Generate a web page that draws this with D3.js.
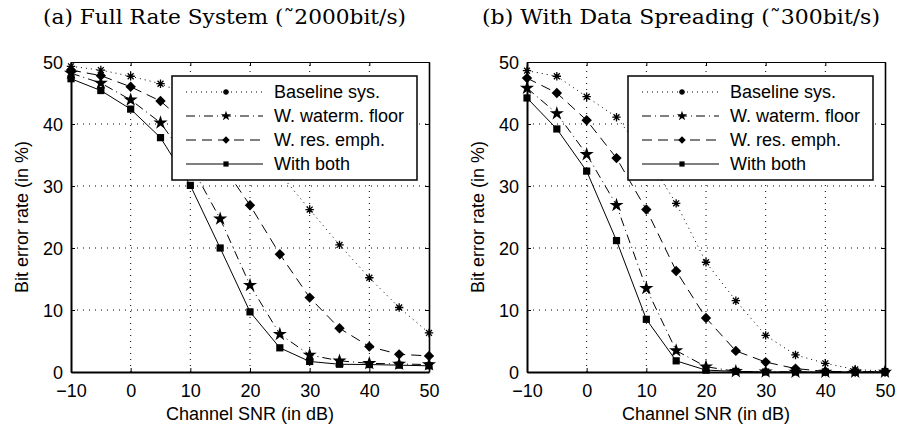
<!DOCTYPE html>
<html><head><meta charset="utf-8">
<script src="https://cdn.jsdelivr.net/npm/d3@7"></script>
<style>body{margin:0;background:#fff}svg{display:block}</style>
</head><body>
<svg id="c" width="898" height="430"></svg>
<script>
const snr = [-10,-5,0,5,10,15,20,25,30,35,40,45,50];
const seriesNames = ["Baseline sys.","W. waterm. floor","W. res. emph.","With both"];
const xTicks = [-10,0,10,20,30,40,50];
const yTicks = [0,10,20,30,40,50];
const titleA = "(a) Full Rate System (˜2000bit/s)";
const titleB = "(b) With Data Spreading (˜300bit/s)";
const xLabel = "Channel SNR (in dB)";
const yLabel = "Bit error rate (in %)";
// Panel (a)
const aBaseline = [49.3,48.7,47.7,46.5,44.5,41.5,37.0,32.0,26.2,20.5,15.2,10.4,6.3];
const aWaterm   = [48.2,46.6,43.9,40.2,33.5,24.7,14.0,6.1,2.75,1.8,1.4,1.3,1.2];
const aResEmph  = [48.7,47.8,46.0,43.7,39.5,33.9,26.9,19.0,12.0,7.05,4.1,2.85,2.6];
const aBoth     = [47.3,45.4,42.4,37.8,30.1,20.0,9.7,3.9,1.7,1.25,1.2,1.1,1.0];
// Panel (b)
const bBaseline = [48.6,47.7,44.4,41.1,34.8,27.2,17.7,11.5,5.9,2.75,1.4,0.4,0.15];
const bWaterm   = [45.8,41.7,35.1,26.9,13.5,3.45,0.85,0.1,0.05,0,0,0,0];
const bResEmph  = [47.4,45.0,40.6,34.5,26.2,16.3,8.7,3.4,1.6,0.55,0.1,0.05,0.05];
const bBoth     = [44.2,39.2,32.4,21.2,8.5,1.8,0.3,0.1,0,0,0,0,0];

const styles = [
  {dash:"1,4", marker:"asterisk"},
  {dash:"9,4,1,4", marker:"star"},
  {dash:"10,6", marker:"diamond"},
  {dash:null, marker:"square"}
];
const svg = d3.select("#c");
const sans = "'Liberation Sans', Arial, Helvetica, sans-serif";

function drawMarker(g, type, x, y, sc) {
  sc = sc || 1;
  if (type === "asterisk") {
    const r = 4.2 * sc;
    const p = d3.path();
    for (let k = 0; k < 4; k++) {
      const a = k * Math.PI / 4;
      p.moveTo(x - r*Math.cos(a), y - r*Math.sin(a));
      p.lineTo(x + r*Math.cos(a), y + r*Math.sin(a));
    }
    g.append("path").attr("d", p.toString()).attr("stroke","#000").attr("stroke-width",1.3).attr("fill","none");
  } else if (type === "star") {
    g.append("path").attr("d", d3.symbol(d3.symbolStar, 62*sc*sc)()).attr("transform",`translate(${x},${y})`).attr("fill","#000");
  } else if (type === "diamond") {
    const r = 5.2 * sc;
    g.append("path").attr("d", `M${x},${y-r}L${x+r},${y}L${x},${y+r}L${x-r},${y}Z`).attr("fill","#000");
  } else {
    const s = 3.6 * sc;
    g.append("rect").attr("x",x-s).attr("y",y-s).attr("width",2*s).attr("height",2*s).attr("fill","#000");
  }
}

function panel(o) {
  const x = d3.scaleLinear().domain([-10,50]).range([o.x0, o.x1]);
  const y = d3.scaleLinear().domain([0,50]).range([372, 62]);
  const g = svg.append("g");
  // grid
  xTicks.forEach(t => {
    if (t === -10 || t === 50) return;
    g.append("line").attr("x1",x(t)).attr("x2",x(t)).attr("y1",y(0)).attr("y2",y(50))
      .attr("stroke","#000").attr("stroke-width",1).attr("stroke-dasharray","1,5");
  });
  yTicks.forEach(t => {
    if (t === 0 || t === 50) return;
    g.append("line").attr("x1",x(-10)).attr("x2",x(50)).attr("y1",y(t)).attr("y2",y(t))
      .attr("stroke","#000").attr("stroke-width",1).attr("stroke-dasharray","1,5");
  });
  // axes with inward ticks
  const ax = g.append("g").attr("transform",`translate(0,${y(0)})`)
    .call(d3.axisBottom(x).tickValues(xTicks).tickSizeInner(-4).tickSizeOuter(0).tickPadding(12)
      .tickFormat(d => d < 0 ? "\u2212" + Math.abs(d) : d));
  const ay = g.append("g").attr("transform",`translate(${x(-10)},0)`)
    .call(d3.axisLeft(y).tickValues(yTicks).tickSizeInner(-4).tickSizeOuter(0).tickPadding(8));
  const axt = g.append("g").attr("transform",`translate(0,${y(50)})`)
    .call(d3.axisTop(x).tickValues(xTicks).tickSizeInner(-4).tickSizeOuter(0).tickFormat(""));
  const ayr = g.append("g").attr("transform",`translate(${x(50)},0)`)
    .call(d3.axisRight(y).tickValues(yTicks).tickSizeInner(-4).tickSizeOuter(0).tickFormat(""));
  [ax, ay, axt, ayr].forEach(a => {
    a.selectAll("text").attr("font-family", sans).attr("font-size", 18).attr("fill","#000");
    a.selectAll("line").attr("stroke","#000");
  });
  ax.select(".domain").attr("stroke","#000").attr("stroke-width",2);
  ay.select(".domain").attr("stroke","#000").attr("stroke-width",2);
  axt.select(".domain").attr("stroke","#000").attr("stroke-width",1.2);
  ayr.select(".domain").attr("stroke","#000").attr("stroke-width",1.6);
  ay.selectAll("text").attr("dy","0.36em");

  // series
  const line = d3.line().x((d,i) => x(snr[i])).y(d => y(d));
  o.data.forEach((ser, k) => {
    g.append("path").attr("d", line(ser)).attr("fill","none").attr("stroke","#000")
      .attr("stroke-width",1).attr("stroke-dasharray", styles[k].dash);
  });
  o.data.forEach((ser, k) => {
    ser.forEach((v, i) => drawMarker(g, styles[k].marker, x(snr[i]), y(v)));
  });

  // legend
  const lg = g.append("g");
  lg.append("rect").attr("x",o.lx).attr("y",76).attr("width",o.lw).attr("height",104)
    .attr("fill","#fff").attr("stroke","#000").attr("stroke-width",1.5);
  seriesNames.forEach((n, k) => {
    const yy = 92 + k * 24;
    lg.append("line").attr("x1",o.lx+14).attr("x2",o.lx+91).attr("y1",yy).attr("y2",yy)
      .attr("stroke","#000").attr("stroke-width",1).attr("stroke-dasharray", styles[k].dash);
    drawMarker(lg, styles[k].marker, o.lx+54, yy, 0.72);
    lg.append("text").attr("x",o.lx+102).attr("y",yy).attr("dy","0.36em")
      .attr("font-family",sans).attr("font-size",18).text(n);
  });

  // labels
  g.append("text").attr("x",(o.x0+o.x1)/2).attr("y",420).attr("text-anchor","middle")
    .attr("font-family",sans).attr("font-size",18).text(xLabel);
  g.append("text").attr("transform",`translate(${o.yl},217) rotate(-90)`).attr("text-anchor","middle")
    .attr("font-family",sans).attr("font-size",18).text(yLabel);
  g.append("text").attr("x",o.tx).attr("y",24)
    .attr("font-family","'DejaVu Serif','Liberation Serif',serif").attr("font-size",20)
    .attr("textLength", o.tw).attr("lengthAdjust","spacingAndGlyphs")
    .text(o.title);
}

panel({x0:71, x1:429, data:[aBaseline,aWaterm,aResEmph,aBoth], lx:172, lw:245, yl:28, tx:43, tw:363, title:titleA});
panel({x0:527, x1:885, data:[bBaseline,bWaterm,bResEmph,bBoth], lx:628, lw:245, yl:484, tx:482, tw:398, title:titleB});
</script>
</body></html>
